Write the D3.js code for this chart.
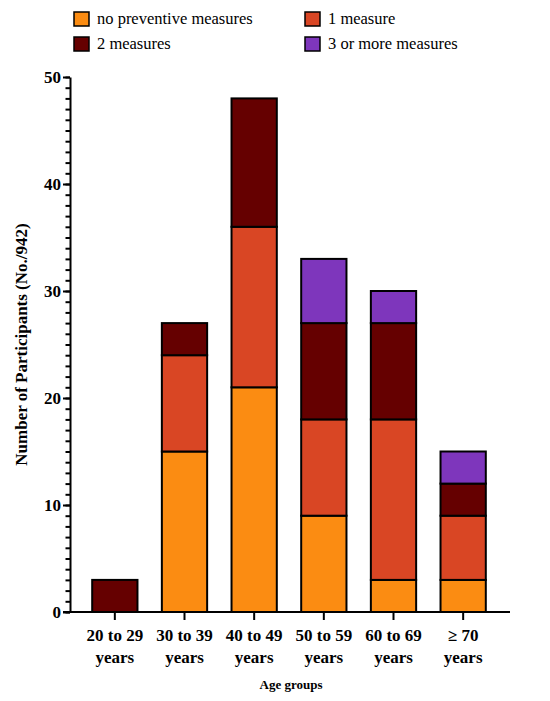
<!DOCTYPE html>
<html>
  <head>
    <meta charset="UTF-8">
    <title>Preventive measures by age group</title>
    <script src="https://d3js.org/d3.v7.min.js"></script>
    <style>
      body { margin: 0; background: #fff; }
      svg text { font-family: "Liberation Serif", "DejaVu Serif", serif; fill: #000; }
      .seg { stroke: #000; stroke-width: 2px; }
      .axis path, .axis line { stroke: #000; stroke-width: 2px; }
      .tick-label { font-weight: bold; font-size: 17px; }
      .legend text { font-size: 16.5px; }
    </style>
  </head>
  <body>
    <div id="chart"></div>
    <script>
      // data
      const categories = ["20 to 29 years", "30 to 39 years", "40 to 49 years",
                          "50 to 59 years", "60 to 69 years", "≥ 70 years"];
      const tickLines = [["20 to 29", "years"], ["30 to 39", "years"], ["40 to 49", "years"],
                         ["50 to 59", "years"], ["60 to 69", "years"], ["≥ 70", "years"]];
      const seriesNames = ["no preventive measures", "1 measure", "2 measures", "3 or more measures"];
      const noMeasures = [0, 15, 21, 9, 3, 3];
      const oneMeasure = [0, 9, 15, 9, 15, 6];
      const twoMeasures = [3, 3, 12, 9, 9, 3];
      const threeMeasures = [0, 0, 0, 6, 3, 3];
      const yTicks = [0, 10, 20, 30, 40, 50];

      const colors = ["#FB8C12", "#D94624", "#650000", "#7E36BC"];
      const font = "'Liberation Serif', 'DejaVu Serif', serif";

      const width = 550, height = 701;
      const svg = d3.select("#chart").append("svg")
        .attr("width", width)
        .attr("height", height);

      const rows = categories.map((c, i) => ({
        cat: c,
        [seriesNames[0]]: noMeasures[i],
        [seriesNames[1]]: oneMeasure[i],
        [seriesNames[2]]: twoMeasures[i],
        [seriesNames[3]]: threeMeasures[i]
      }));
      const stacked = d3.stack().keys(seriesNames)(rows);

      const x = d3.scaleBand()
        .domain(categories)
        .range([80, 498])
        .paddingInner(0.35)
        .paddingOuter(0.175);

      const y = d3.scaleLinear()
        .domain([0, 50])
        .range([612, 77]);

      // bars
      const layers = svg.selectAll(".layer")
        .data(stacked)
        .join("g")
        .attr("class", "layer")
        .attr("fill", (d, i) => colors[i]);

      layers.selectAll("rect")
        .data(d => d.filter(s => s[1] - s[0] > 0))
        .join("rect")
        .attr("class", "seg")
        .attr("x", d => x(d.data.cat))
        .attr("width", x.bandwidth())
        .attr("y", d => y(d[1]))
        .attr("height", d => y(d[0]) - y(d[1]));

      // y axis: minor ticks every unit, major every 10
      const yMinor = svg.append("g")
        .attr("class", "axis")
        .attr("transform", "translate(70,0)")
        .call(d3.axisLeft(y).ticks(50).tickSize(4.5).tickFormat(""));
      yMinor.select(".domain").remove();

      const yAxis = svg.append("g")
        .attr("class", "axis")
        .attr("transform", "translate(70,0)")
        .call(d3.axisLeft(y).tickValues(yTicks).tickSize(7).tickSizeOuter(0).tickPadding(2));
      yAxis.selectAll("text")
        .attr("class", "tick-label")
        .style("font-family", font);

      // x axis
      const xAxis = svg.append("g")
        .attr("class", "axis")
        .attr("transform", `translate(0,${y(0)})`)
        .call(d3.axisBottom(x).tickSize(8).tickSizeOuter(0).tickFormat(""));
      xAxis.select(".domain").attr("d", "M63,0H510");

      xAxis.selectAll(".tick")
        .append("text")
        .attr("class", "tick-label")
        .attr("text-anchor", "middle")
        .style("font-family", font)
        .selectAll("tspan")
        .data((d, i) => tickLines[i])
        .join("tspan")
        .attr("x", 0)
        .attr("y", (d, i) => 29 + i * 22)
        .text(d => d);

      // axis titles
      svg.append("text")
        .attr("x", (x.range()[0] + x.range()[1]) / 2 + 2)
        .attr("y", 689)
        .attr("text-anchor", "middle")
        .style("font-weight", "bold")
        .style("font-size", "13px")
        .text("Age groups");

      svg.append("text")
        .attr("transform", `translate(27,${(y(0) + y(50)) / 2}) rotate(-90)`)
        .attr("text-anchor", "middle")
        .style("font-weight", "bold")
        .style("font-size", "17px")
        .text("Number of Participants (No./942)");

      // legend
      const legend = svg.append("g").attr("class", "legend")
        .selectAll("g")
        .data(seriesNames)
        .join("g")
        .attr("transform", (d, i) => `translate(${i % 2 === 0 ? 74 : 305},${i < 2 ? 12 : 37})`);

      legend.append("rect")
        .attr("width", 15)
        .attr("height", 14)
        .attr("fill", (d, i) => colors[i])
        .attr("stroke", "#000")
        .attr("stroke-width", 1.5);

      legend.append("text")
        .attr("x", 23)
        .attr("y", 12)
        .text(d => d);
    </script>
  </body>
</html>
